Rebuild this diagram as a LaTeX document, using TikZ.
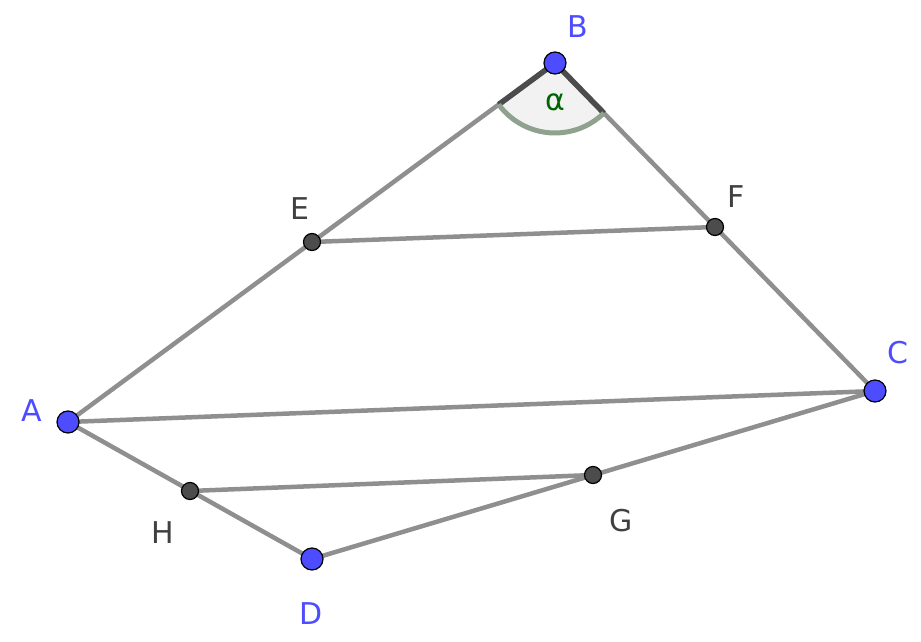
\documentclass[tikz,border=0pt]{standalone}
\usepackage{fontspec}
\setmainfont{DejaVu Sans}
\usetikzlibrary{calc}
\definecolor{pblue}{HTML}{4D4DFF}
\definecolor{seg}{HTML}{8F8F8F}
\definecolor{agreen}{HTML}{006400}
\definecolor{arcc}{HTML}{8FA28F}
\begin{document}
\begin{tikzpicture}[x=1pt,y=-1pt,
  side/.style={seg,line width=4.5pt},
  bigpt/.style={circle,fill=pblue,draw=black,line width=1.2pt,minimum size=22pt,inner sep=0pt},
  smallpt/.style={circle,fill=black!70,draw=black,line width=1.2pt,minimum size=17pt,inner sep=0pt},
  blab/.style={text=pblue,font=\fontsize{30}{30}\selectfont},
  glab/.style={text=black!75,font=\fontsize{30}{30}\selectfont}]
\useasboundingbox (0,0) rectangle (921,642);
\coordinate (B) at (555,63);
\coordinate (A) at (68,422);
\coordinate (C) at (875,391);
\coordinate (D) at (312,559);
\coordinate (E) at (312,242);
\coordinate (F) at (715,227);
\coordinate (G) at (593,475);
\coordinate (H) at (190,491);
\fill[black!5] (B) -- ++(143.6:70) arc[start angle=143.6,end angle=45.7,radius=70] -- cycle;
\draw[side] (A) -- (B) -- (C) -- (A);
\draw[side] (A) -- (D) -- (C);
\draw[side] (E) -- (F);
\draw[side] (H) -- (G);
\draw[black!70,line width=5.5pt] ($(B)+(143.6:70)$) -- (B) -- ($(B)+(45.7:70)$);
\draw[arcc,line width=5pt] ($(B)+(143.6:70)$) arc[start angle=143.6,end angle=45.7,radius=70];
\node[text=agreen,font=\fontsize{30}{30}\selectfont] (al) at (555,102) {α};
\node[bigpt] (pA) at (A) {};
\node[bigpt] (pB) at (B) {};
\node[bigpt] (pC) at (C) {};
\node[bigpt] (pD) at (D) {};
\node[smallpt] (pE) at (E) {};
\node[smallpt] (pF) at (F) {};
\node[smallpt] (pG) at (G) {};
\node[smallpt] (pH) at (H) {};
\node[blab] (lA) at (32,411) {A};
\node[blab] (lB) at (578,27) {B};
\node[blab] (lC) at (898,353) {C};
\node[blab] (lD) at (311,614) {D};
\node[glab] (lE) at (300,209) {E};
\node[glab] (lF) at (736,197) {F};
\node[glab] (lG) at (621,521) {G};
\node[glab] (lH) at (163,533) {H};
\end{tikzpicture}
\end{document}
